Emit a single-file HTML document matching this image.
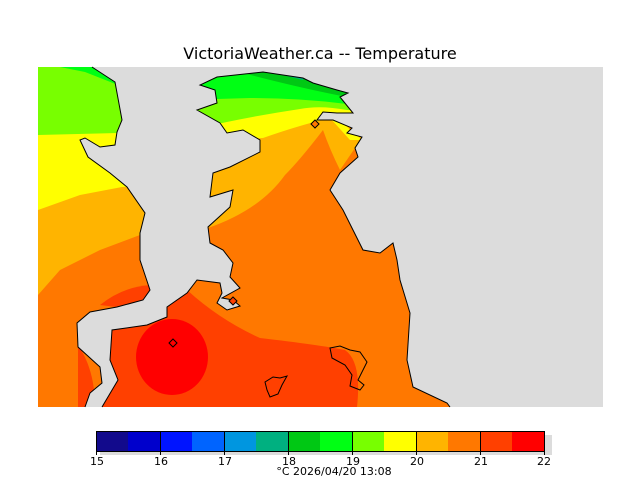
<!DOCTYPE html>
<html><head><meta charset="utf-8"><style>
body{margin:0;background:#fff;width:640px;height:480px;overflow:hidden}
svg text{font-family:"DejaVu Sans","Liberation Sans",sans-serif}
</style></head><body>
<svg width="640" height="480" viewBox="0 0 640 480" xmlns="http://www.w3.org/2000/svg">
<defs>
<clipPath id="landL"><polygon points="38,67 92,67 115,82 122,120 117,132 115,145 100,147 85,138 80,140 88,157 110,173 127,187 145,213 140,233 140,260 150,290 143,300 117,307 90,312 77,323 78,347 100,367 102,383 90,393 85,407 38,407"/></clipPath>
<clipPath id="landE"><polygon points="102,407 118,380 110,360 112,330 147,325 167,317 167,307 187,293 197,280 220,283 222,293 217,303 227,310 240,306 233,300 222,298 240,288 230,277 233,263 223,250 210,243 208,227 230,207 233,190 210,197 213,173 230,167 260,152 260,140 243,130 227,133 220,123 197,110 217,103 215,90 200,85 217,77 263,72 303,78 313,83 337,90 348,93 340,97 353,113 337,113 323,112 317,120 333,120 352,128 347,133 362,137 355,148 358,157 340,173 330,190 343,210 363,250 380,253 393,243 397,260 400,280 410,313 407,360 413,387 447,403 450,407"/></clipPath>
</defs>
<text x="320" y="59" text-anchor="middle" font-size="16" fill="#000">VictoriaWeather.ca -- Temperature</text>
<rect x="38" y="67" width="565" height="340" fill="#dcdcdc"/>
<g clip-path="url(#landL)">
<rect x="38" y="67" width="120" height="340" fill="#ff7800"/>
<polygon points="38,67 160,67 160,233 140,235 100,250 60,270 38,295" fill="#ffb400"/>
<polygon points="38,67 160,67 160,187 122,187 80,195 38,210" fill="#ffff00"/>
<polygon points="38,67 160,67 160,132 38,135" fill="#78ff00"/>
<polygon points="60,67 95,67 118,78 118,85 85,72" fill="#00ff14"/>
<path d="M100,305 Q125,285 155,285 L155,300 L140,310 Z" fill="#ff4000"/>
<path d="M78,345 Q95,370 95,407 L78,407 Z" fill="#ff4000"/>
</g>
<g clip-path="url(#landE)">
<rect x="100" y="67" width="360" height="340" fill="#ff7800"/>
<path d="M100,300 L187,290 Q220,320 260,338 Q320,345 345,350 Q362,362 357,407 L100,407 Z" fill="#ff4000"/>
<ellipse cx="172" cy="357" rx="36" ry="38" fill="#ff0000"/>
<path d="M190,67 L400,67 L400,130 L340,128 L352,135 L362,137 L355,148 L340,170 Q330,150 323,130 Q300,160 285,175 Q260,210 208,228 L180,228 Z" fill="#ffb400"/>
<path d="M190,67 L400,67 L400,125 L345,125 L362,140 L350,140 L330,118 Q300,125 263,138 L220,140 L190,140 Z" fill="#ffff00"/>
<path d="M190,67 L400,67 L400,112 L347,110 Q320,105 300,109 Q260,115 222,123 L190,125 Z" fill="#78ff00"/>
<path d="M190,67 L400,67 L400,110 L347,104 Q300,98 250,98 L217,99 L190,99 Z" fill="#00ff14"/>
<path d="M243,67 L400,67 L400,97 L347,97 Q300,88 243,73 Z" fill="#00c814"/>
<path d="M263,67 L310,67 L303,80 L270,72 Z" fill="#00b080"/>
</g>
<g fill="none" stroke="#000" stroke-width="1">
<polyline points="92,67 115,82 122,120 117,132 115,145 100,147 85,138 80,140 88,157 110,173 127,187 145,213 140,233 140,260 150,290 143,300 117,307 90,312 77,323 78,347 100,367 102,383 90,393 85,407"/>
<polyline points="102,407 118,380 110,360 112,330 147,325 167,317 167,307 187,293 197,280 220,283 222,293 217,303 227,310 240,306 233,300 222,298 240,288 230,277 233,263 223,250 210,243 208,227 230,207 233,190 210,197 213,173 230,167 260,152 260,140 243,130 227,133 220,123 197,110 217,103 215,90 200,85 217,77 263,72 303,78 313,83 337,90 348,93 340,97 353,113 337,113 323,112 317,120 333,120 352,128 347,133 362,137 355,148 358,157 340,173 330,190 343,210 363,250 380,253 393,243 397,260 400,280 410,313 407,360 413,387 447,403 450,407"/>
<polygon points="265,382 273,377 280,378 287,376 282,385 278,394 270,397 267,390"/>
<polygon points="330,348 340,346 350,350 360,352 367,362 362,372 358,380 364,385 360,390 350,386 352,375 345,365 332,358"/>
</g>
<g stroke="#000" stroke-width="1" fill="#ff7800">
<polygon points="315,120 319,124 315,128 311,124"/>
<polygon points="233,297 237,301 233,305 229,301" fill="#ff4000"/>
<polygon points="173,339 177,343 173,347 169,343" fill="none"/>
</g>
<rect x="100" y="435" width="452" height="20" fill="#dcdcdc"/>
<g>
<rect x="96" y="431" width="32" height="20" fill="#120a8c"/>
<rect x="128" y="431" width="32" height="20" fill="#0000cc"/>
<rect x="160" y="431" width="32" height="20" fill="#0014ff"/>
<rect x="192" y="431" width="32" height="20" fill="#0064ff"/>
<rect x="224" y="431" width="32" height="20" fill="#0096e0"/>
<rect x="256" y="431" width="32" height="20" fill="#00b080"/>
<rect x="288" y="431" width="32" height="20" fill="#00c814"/>
<rect x="320" y="431" width="32" height="20" fill="#00ff14"/>
<rect x="352" y="431" width="32" height="20" fill="#78ff00"/>
<rect x="384" y="431" width="32" height="20" fill="#ffff00"/>
<rect x="416" y="431" width="32" height="20" fill="#ffb400"/>
<rect x="448" y="431" width="32" height="20" fill="#ff7800"/>
<rect x="480" y="431" width="32" height="20" fill="#ff4000"/>
<rect x="512" y="431" width="32" height="20" fill="#ff0000"/>
</g>
<rect x="96.5" y="431.5" width="448" height="20" fill="none" stroke="#000"/>
<g stroke="#000"><line x1="160.5" y1="431" x2="160.5" y2="455"/><line x1="224.5" y1="431" x2="224.5" y2="455"/><line x1="288.5" y1="431" x2="288.5" y2="455"/><line x1="352.5" y1="431" x2="352.5" y2="455"/><line x1="416.5" y1="431" x2="416.5" y2="455"/><line x1="480.5" y1="431" x2="480.5" y2="455"/><line x1="96.5" y1="451" x2="96.5" y2="455"/><line x1="544.5" y1="451" x2="544.5" y2="455"/></g>
<g font-size="11" text-anchor="middle" fill="#000">
<text x="97" y="465">15</text><text x="161" y="465">16</text><text x="225" y="465">17</text><text x="289" y="465">18</text><text x="353" y="465">19</text><text x="417" y="465">20</text><text x="481" y="465">21</text><text x="544" y="465">22</text>
<text x="334" y="475">°C  2026/04/20 13:08</text>
</g>
</svg>
</body></html>
